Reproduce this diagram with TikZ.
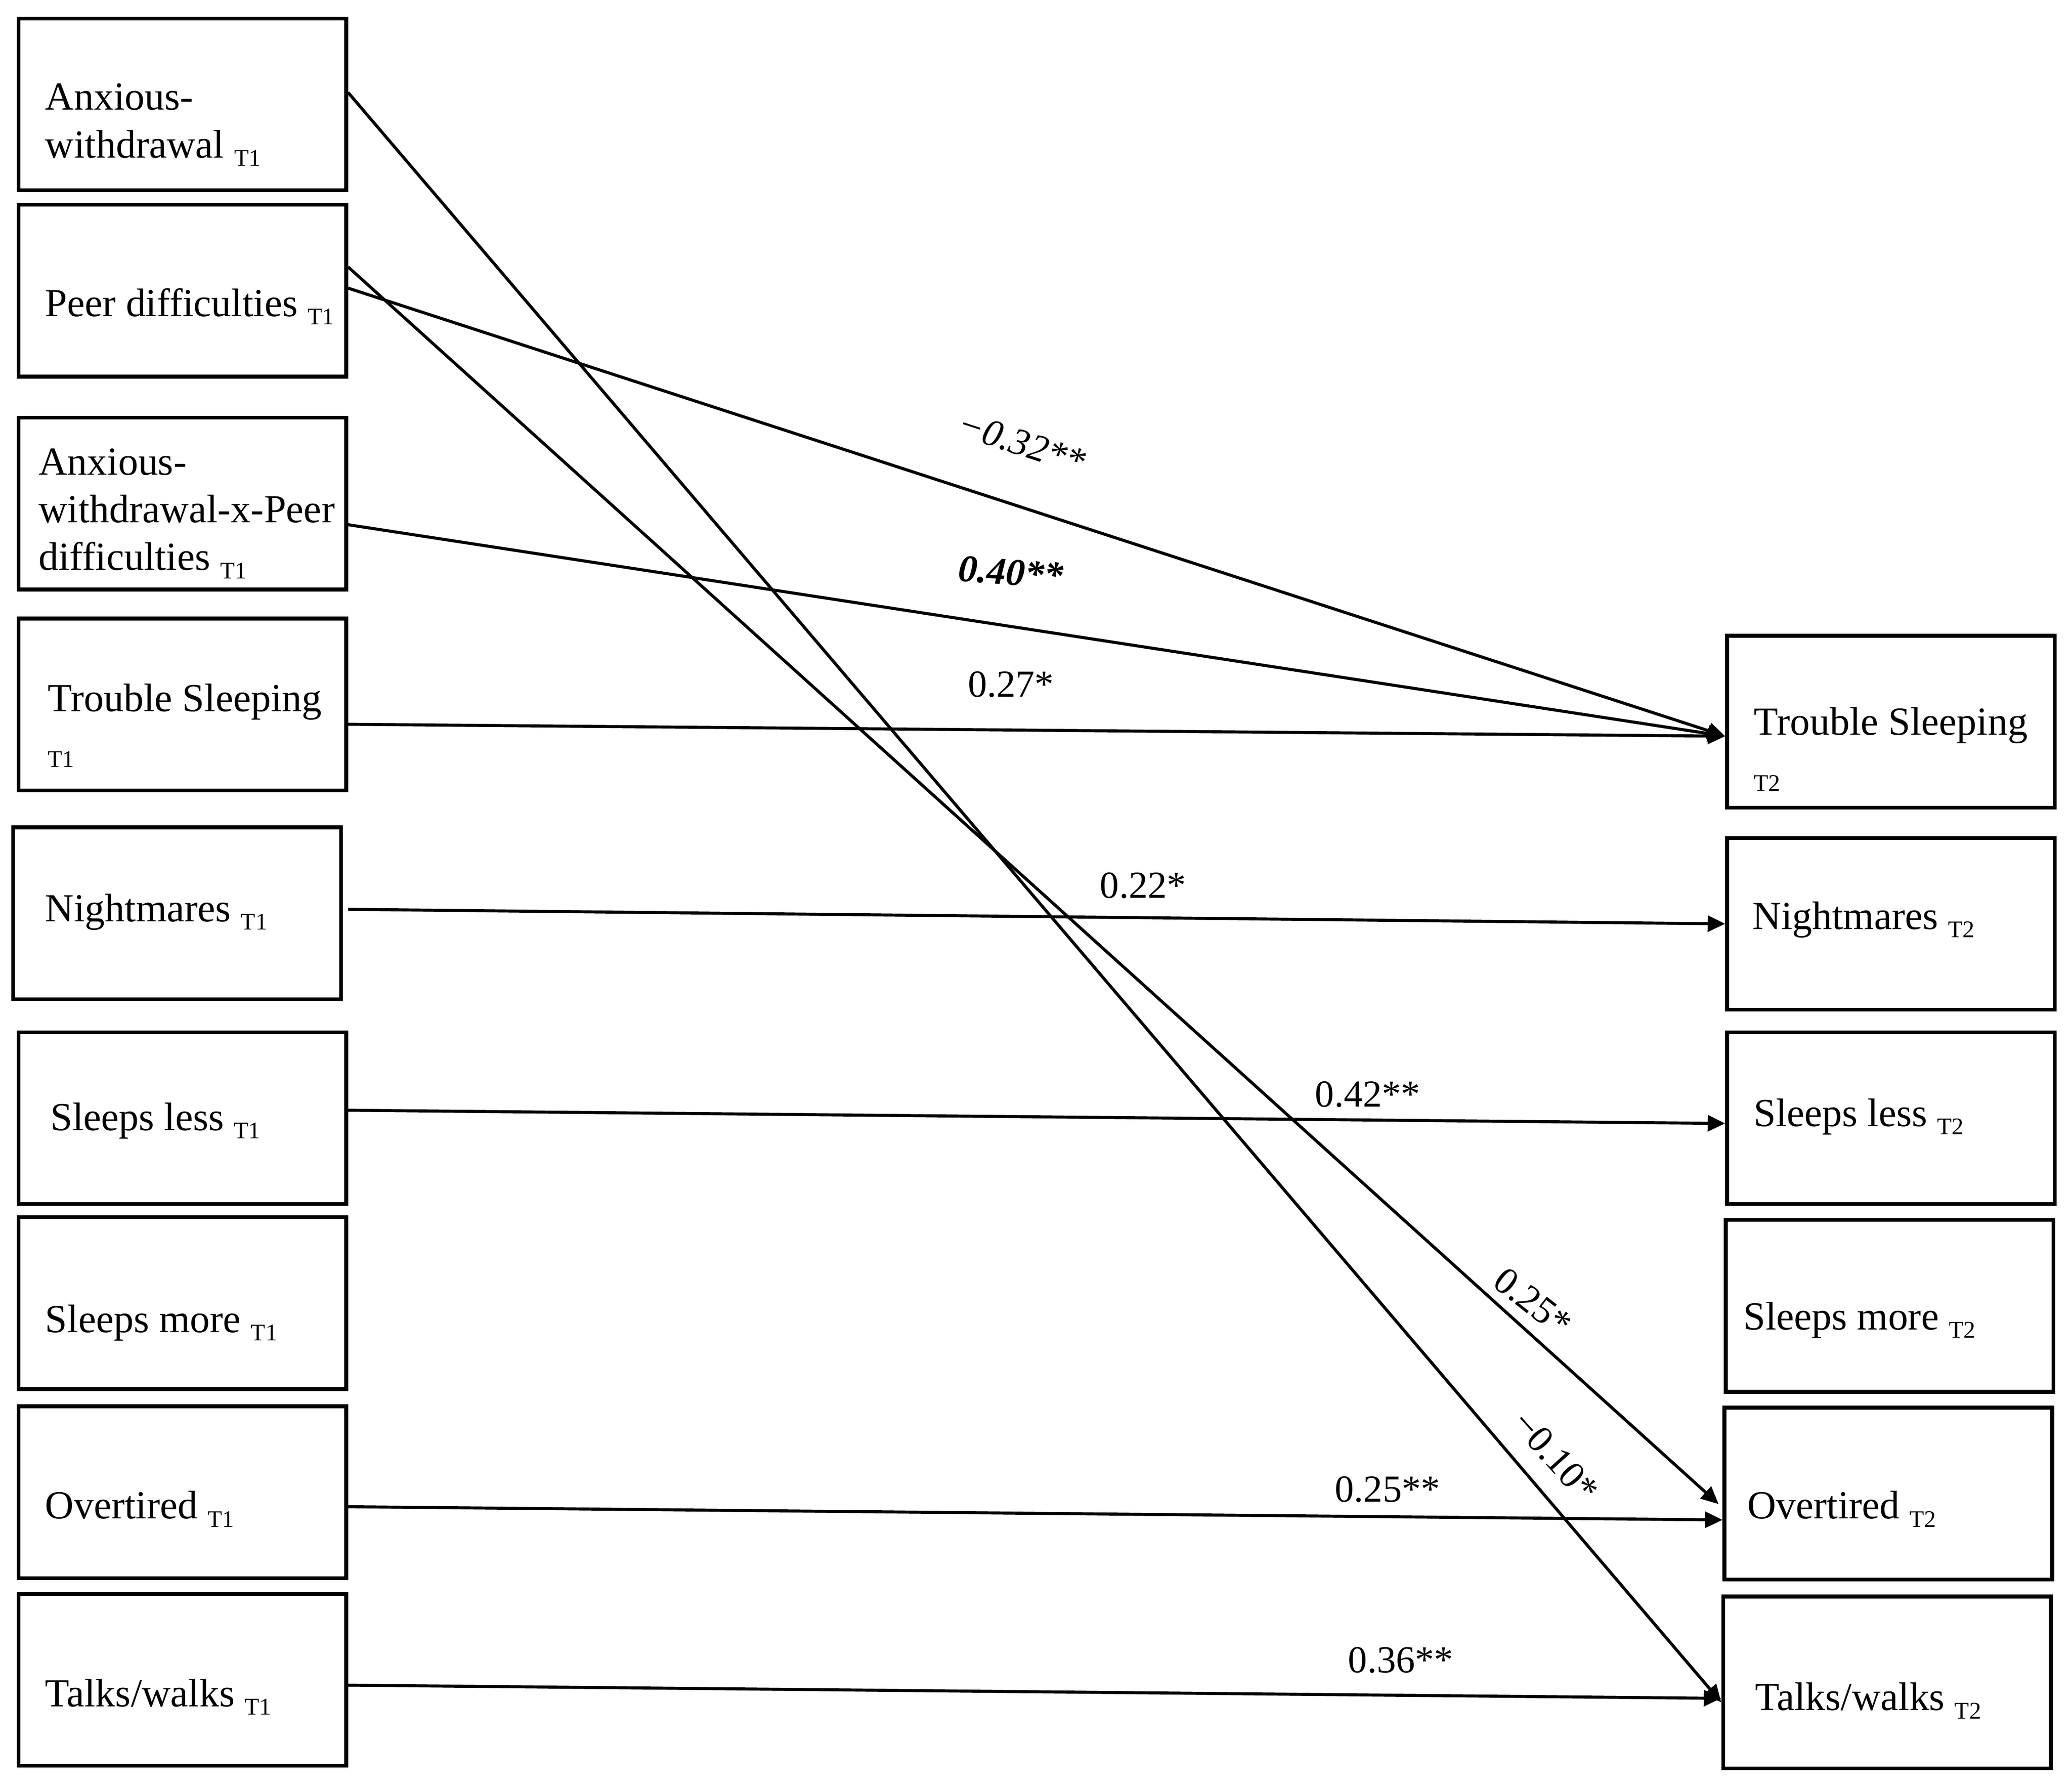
\documentclass[tikz,border=0pt]{standalone}
\usepackage{fontspec}
\setmainfont{Liberation Serif}
\usetikzlibrary{arrows.meta}
\newcommand{\tsub}[1]{\raisebox{-0.45ex}{\fontsize{15}{15}\selectfont #1}}
\begin{document}
\begin{tikzpicture}[x=0.02918cm,y=-0.02918cm,
  box/.style={draw,line width=2.4pt,minimum width=248*0.02918cm,minimum height=130*0.02918cm,inner sep=0pt},
  txt/.style={anchor=north west,align=left,inner sep=0pt,font=\fontsize{25}{30}\selectfont},
  arr/.style={line width=1.9pt,-{Triangle[length=11pt,width=10pt]}},
  lab/.style={font=\fontsize{24}{28}\selectfont}]
\useasboundingbox (0,0) rectangle (1568,1352);
\node[box] (aw) at (138,79) {};
\node[box] (pd) at (138,220) {};
\node[box] (ax) at (138,381) {};
\node[box] (ts) at (138,533) {};
\node[box] (nm) at (134,691) {};
\node[box] (sl) at (138,846) {};
\node[box] (sm) at (138,986) {};
\node[box] (ot) at (138,1129) {};
\node[box] (tw) at (138,1271) {};
\node[box] (ts2) at (1431,546) {};
\node[box] (nm2) at (1431,699) {};
\node[box] (sl2) at (1431,846) {};
\node[box] (sm2) at (1430,988) {};
\node[box] (ot2) at (1429,1130) {};
\node[box] (tw2) at (1428,1273) {};
\node[txt] (taw) at (34,63) {Anxious-\\withdrawal \tsub{T1}};
\node[txt] (tpd) at (34,218) {Peer difficulties \tsub{T1}};
\node[txt] (tax) at (29,339) {Anxious-\\withdrawal-x-Peer\\difficulties \tsub{T1}};
\node[txt] (tts) at (36,517) {Trouble Sleeping\\\tsub{T1}};
\node[txt] (tnm) at (34,676) {Nightmares \tsub{T1}};
\node[txt] (tsl) at (38,834) {Sleeps less \tsub{T1}};
\node[txt] (tsm) at (34,987) {Sleeps more \tsub{T1}};
\node[txt] (tot) at (34,1128) {Overtired \tsub{T1}};
\node[txt] (ttw) at (34,1270) {Talks/walks \tsub{T1}};
\node[txt] (tts2) at (1327,535) {Trouble Sleeping\\\tsub{T2}};
\node[txt] (tnm2) at (1326,682) {Nightmares \tsub{T2}};
\node[txt] (tsl2) at (1327,831) {Sleeps less \tsub{T2}};
\node[txt] (tsm2) at (1319,985) {Sleeps more \tsub{T2}};
\node[txt] (tot2) at (1322,1128) {Overtired \tsub{T2}};
\node[txt] (ttw2) at (1328,1273) {Talks/walks \tsub{T2}};
\coordinate (tsin) at ([shift={(0,11)}]ts2.west);
\draw[arr] ([shift={(0,-9)}]aw.east) -- ([shift={(0,15)}]tw2.west);
\draw[arr] ([shift={(0,-18)}]pd.east) -- ([shift={(-3,8)}]ot2.west);
\draw[arr] ([shift={(0,-2)}]pd.east) -- (tsin);
\draw[arr] ([shift={(0,16)}]ax.east) -- (tsin);
\draw[arr] ([shift={(0,15)}]ts.east) -- (tsin);
\draw[arr] ([shift={(4,-3)}]nm.east) -- (nm2.west);
\draw[arr] ([shift={(0,-6)}]sl.east) -- ([shift={(0,4)}]sl2.west);
\draw[arr] ([shift={(0,11)}]ot.east) -- ([shift={(0,20)}]ot2.west);
\draw[arr] ([shift={(0,4)}]tw.east) -- ([shift={(0,12)}]tw2.west);
\node[lab,rotate=-18] at (773,335) {\textit{−0.32**}};
\node[lab,rotate=-4] at (765,433) {\textbf{\textit{0.40**}}};
\node[lab] at (765,518) {0.27*};
\node[lab] at (865,670) {0.22*};
\node[lab] at (1035,828) {0.42**};
\node[lab,rotate=-38] at (1160,985) {0.25*};
\node[lab,rotate=-48] at (1177,1102) {−0.10*};
\node[lab] at (1050,1127) {0.25**};
\node[lab] at (1060,1256) {0.36**};
\end{tikzpicture}
\end{document}
